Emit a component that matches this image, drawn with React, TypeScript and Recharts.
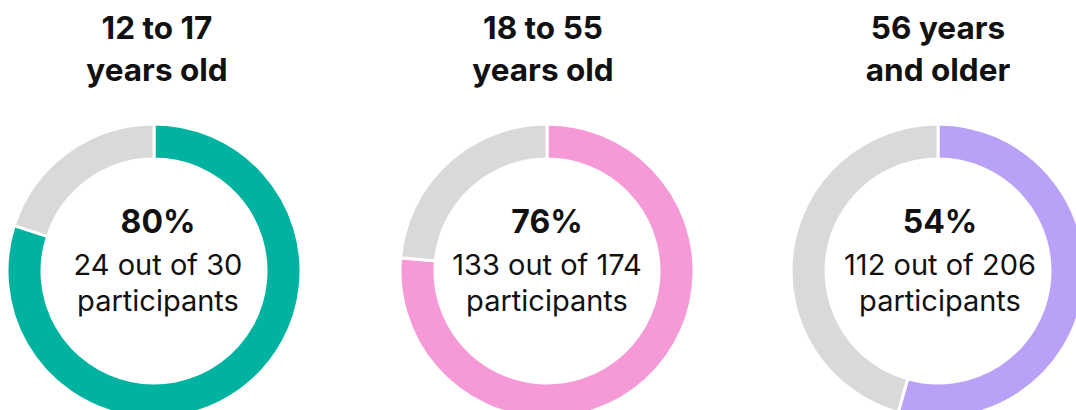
import React from 'react';
import { PieChart, Pie, Cell } from 'recharts';

// ---- data ----
const titleLine1 = ['12 to 17', '18 to 55', '56 years'];
const titleLine2 = ['years old', 'years old', 'and older'];
const yesCounts = [24, 133, 112];
const totals = [30, 174, 206];
const percentLabels = ['80%', '76%', '54%'];
const ringColors = ['#00B3A0', '#F59AD7', '#B8A1F6'];
const restColor = '#D9D9D9';

// ---- layout ----
const W = 1076;
const H = 410;
const ringCx = [154, 547, 938];
const ringCy = 271;
const titleX = [157, 543, 938];
const bodyX = [158, 547, 940];
const FONT = 'Inter, "Noto Sans", sans-serif';

export default function App() {
  return (
    <div style={{ position: 'absolute', left: 0, top: 0, width: W, height: H, background: '#fff' }}>
      <PieChart width={W} height={H} margin={{ top: 0, right: 0, bottom: 0, left: 0 }}>
        {yesCounts.map((yes, i) => {
          const data = [
            { name: 'participants', value: yes },
            { name: 'others', value: totals[i] - yes },
          ];
          return (
            <Pie
              key={'pie' + i}
              data={data}
              dataKey="value"
              cx={ringCx[i]}
              cy={ringCy}
              innerRadius={112}
              outerRadius={147}
              startAngle={90}
              endAngle={-270}
              stroke="#ffffff"
              strokeWidth={3}
              isAnimationActive={false}
            >
              <Cell fill={ringColors[i]} />
              <Cell fill={restColor} />
            </Pie>
          );
        })}
        {yesCounts.map((yes, i) => (
          <g key={'txt' + i} fontFamily={FONT} fill="#111111">
            <text x={titleX[i]} y={39} textAnchor="middle" fontSize={31.5} fontWeight={700}>
              {titleLine1[i]}
            </text>
            <text x={titleX[i]} y={81} textAnchor="middle" fontSize={31.5} fontWeight={700}>
              {titleLine2[i]}
            </text>
            <text x={bodyX[i]} y={233} textAnchor="middle" fontSize={32} fontWeight={700}>
              {percentLabels[i]}
            </text>
            <text x={bodyX[i]} y={275} textAnchor="middle" fontSize={29} fontWeight={400}>
              {`${yes} out of ${totals[i]}`}
            </text>
            <text x={bodyX[i]} y={311} textAnchor="middle" fontSize={29} fontWeight={400}>
              participants
            </text>
          </g>
        ))}
      </PieChart>
    </div>
  );
}
